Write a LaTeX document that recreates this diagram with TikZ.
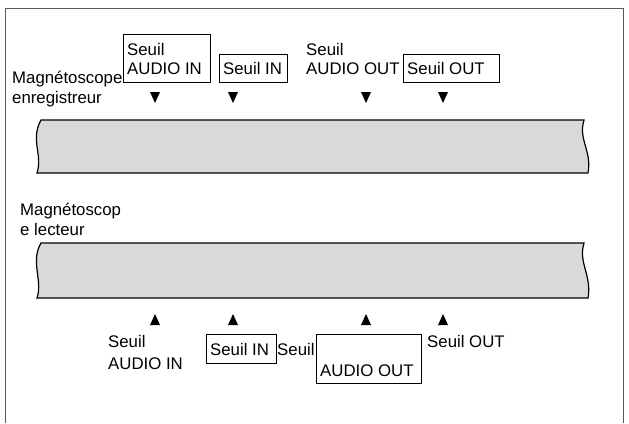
\documentclass[tikz,border=0pt]{standalone}
\usepackage{fontspec}
\setmainfont{Liberation Sans}
\begin{document}
\begin{tikzpicture}[x=1pt,y=-1pt,
  lbl/.style={anchor=base west,inner sep=0pt,font=\fontsize{16.8}{18}\selectfont},
  box/.style={draw,line width=0.8pt},
  tape/.style={draw,line width=1.2pt,fill=gray!30},
  tri/.style={fill=black}]
\useasboundingbox (0,0) rectangle (629,423);
\draw[line width=0.8pt,gray!70!black] (5,423) -- (5,8) -- (623,8) -- (623,423);
% tapes
\path[tape] (41,120) -- (584,120) .. controls (578,140) and (592,150) .. (588,173)
  -- (37,173) .. controls (43,155) and (30,140) .. (41,120) -- cycle;
\path[tape] (41,243) -- (584,243) .. controls (578,263) and (592,275) .. (588,298)
  -- (37,298) .. controls (43,280) and (30,262) .. (41,243) -- cycle;
% triangles
\foreach \x/\n in {155/a,233/b,366/c,443/d}{
  \path[tri] (\x-5,92) -- (\x+5,92) -- (\x,103) -- cycle;
  \path[tri] (\x-5,325) -- (\x+5,325) -- (\x,314) -- cycle;
}
% top labels
\node[lbl] (m1) at (12,83) {Magnétoscope};
\node[lbl] (m2) at (12,103) {enregistreur};
\draw[box] (123,34) rectangle (210,82);
\node[lbl] (t1) at (127,55) {Seuil};
\node[lbl] (t2) at (127,74) {AUDIO IN};
\draw[box] (219,54) rectangle (287,82);
\node[lbl] (t3) at (223,74) {Seuil IN};
\node[lbl] (t4) at (306,55) {Seuil};
\node[lbl] (t5) at (306,74) {AUDIO OUT};
\draw[box] (403,54) rectangle (499,82);
\node[lbl] (t6) at (407,74) {Seuil OUT};
% middle label
\node[lbl] (m3) at (20,215) {Magnétoscop};
\node[lbl] (m4) at (20,235) {e lecteur};
% bottom labels
\node[lbl] (b1) at (108,347) {Seuil};
\node[lbl] (b2) at (108,369) {AUDIO IN};
\draw[box] (206,334) rectangle (276,363);
\node[lbl] (b3) at (210,355) {Seuil IN};
\node[lbl] (b4) at (277,355) {Seuil};
\draw[box] (316,334) rectangle (421,383);
\node[lbl] (b5) at (320,376) {AUDIO OUT};
\node[lbl] (b6) at (427,347) {Seuil OUT};
\end{tikzpicture}
\end{document}
